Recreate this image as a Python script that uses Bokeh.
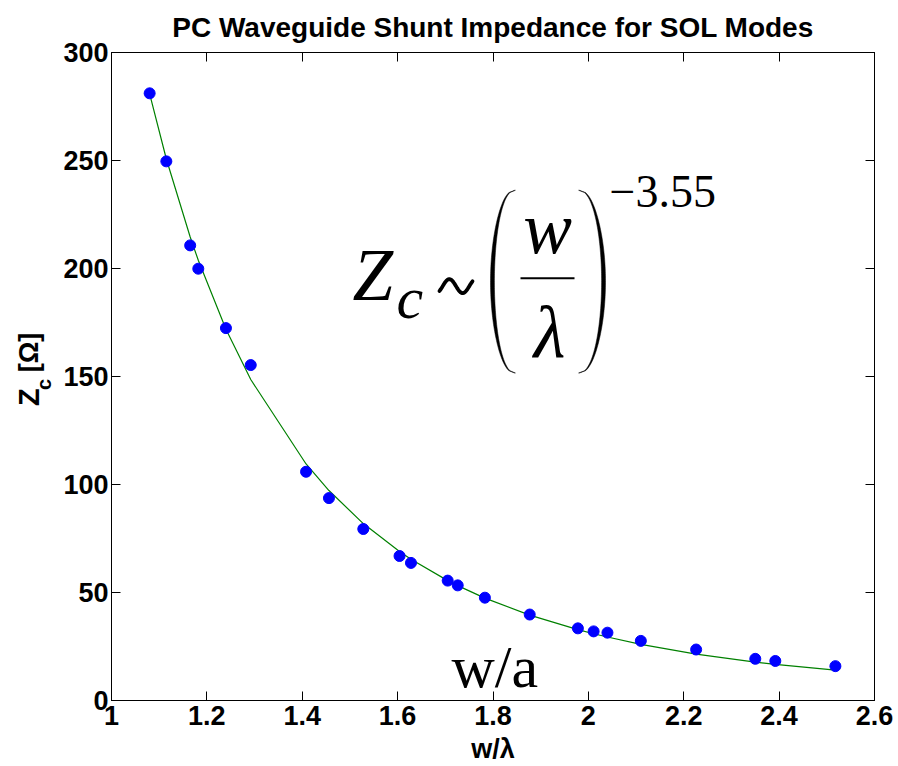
import numpy as np
from bokeh.plotting import figure
from bokeh.layouts import row
from bokeh.models import Range1d, FixedTicker, LinearAxis, Label, CustomJSTickFormatter
from bokeh.embed import file_html
from bokeh.resources import INLINE

# Simulated shunt impedance of the SOL modes versus normalized waveguide width
w_over_lambda = [1.080, 1.115, 1.165, 1.182, 1.240, 1.292, 1.408, 1.456, 1.528,
                 1.604, 1.628, 1.705, 1.726, 1.783, 1.877, 1.978, 2.011, 2.040,
                 2.110, 2.226, 2.350, 2.392, 2.518]
z_c = [281.1, 249.6, 210.7, 199.9, 172.4, 155.3, 105.9, 93.7, 79.4,
       66.9, 63.7, 55.5, 53.3, 47.6, 39.8, 33.4, 32.0, 31.4,
       27.6, 23.6, 19.3, 18.3, 15.9]
# Power-law fit Z_c ~ (w/lambda)^-3.55 at the same widths
z_fit = [280.8, 250.7, 214.6, 203.8, 171.9, 148.6, 109.5, 97.2, 81.9,
         69.0, 65.4, 55.5, 53.2, 47.4, 39.5, 32.8, 30.9, 29.4,
         26.0, 21.5, 17.8, 16.7, 14.1]

x_ticks = [1.0, 1.2, 1.4, 1.6, 1.8, 2.0, 2.2, 2.4, 2.6]
x_tick_labels = ["1", "1.2", "1.4", "1.6", "1.8", "2", "2.2", "2.4", "2.6"]
y_ticks = [0, 50, 100, 150, 200, 250, 300]
y_tick_labels = ["0", "50", "100", "150", "200", "250", "300"]

W, H = 898, 766
STRIP = 56                      # narrow strip holding the y-axis label
LEFT, RIGHT, TOP, BOTTOM = 111, 24, 52, 65
X0, X1 = 1.0, 2.6
Y0, Y1 = 0.0, 300.0
FW, FH = W - LEFT - RIGHT, H - TOP - BOTTOM

SANS = "Liberation Sans"
SERIF = "Liberation Serif"
BASE_SHIFT = 0.34               # em offset between Label anchor and glyph baseline

p = figure(width=W - STRIP, height=H, x_range=Range1d(X0, X1), y_range=Range1d(Y0, Y1),
           output_backend="svg", toolbar_location=None,
           x_axis_type=None, y_axis_type=None,
           min_border_left=LEFT - STRIP, min_border_right=RIGHT,
           min_border_top=TOP, min_border_bottom=BOTTOM)
p.background_fill_color = "white"
p.border_fill_color = "white"
p.outline_line_color = "black"
p.outline_line_width = 1
p.xgrid.visible = False
p.ygrid.visible = False

p.title.text = "PC Waveguide Shunt Impedance for SOL Modes"
p.title.align = "center"
p.title.text_font = SANS
p.title.text_font_size = "28px"
p.title.text_font_style = "bold"
p.title.text_color = "black"
p.title.standoff = 19

blank = CustomJSTickFormatter(code="return ''")


def style_axis(ax, ticks, labels=None):
    ax.ticker = FixedTicker(ticks=ticks)
    ax.major_tick_in = 9
    ax.major_tick_out = 0
    ax.minor_tick_line_color = None
    ax.axis_line_color = "black"
    ax.major_tick_line_color = "black"
    ax.major_label_text_font = SANS
    ax.major_label_text_font_size = "27px"
    ax.major_label_text_font_style = "bold"
    ax.major_label_text_color = "black"
    if labels is None:
        ax.formatter = blank
    else:
        ax.major_label_overrides = {t: s for t, s in zip(ticks, labels)}


xb = LinearAxis()
style_axis(xb, x_ticks, x_tick_labels)
xb.major_label_standoff = 5
xb.axis_label = "w/\u03bb"
xb.axis_label_text_font = SANS
xb.axis_label_text_font_size = "27px"
xb.axis_label_text_font_style = "bold"
xb.axis_label_text_color = "black"
xb.axis_label_standoff = 6
p.add_layout(xb, "below")
yl = LinearAxis()
style_axis(yl, y_ticks, y_tick_labels)
yl.major_label_standoff = 3
p.add_layout(yl, "left")
xt = LinearAxis()
style_axis(xt, x_ticks)
p.add_layout(xt, "above")
yr = LinearAxis()
style_axis(yr, y_ticks)
p.add_layout(yr, "right")

# data and fit
p.line(w_over_lambda, z_fit, line_color="#008000", line_width=1.2)
p.scatter(w_over_lambda, z_c, size=11, fill_color="#0000ff", line_color="#0000ff")


# helpers to place annotations by canvas pixel position
def dx(px):
    return X0 + (px - LEFT) / FW * (X1 - X0)


def dy(py):
    return Y1 - (py - TOP) / FH * (Y1 - Y0)


def label(text, px, py, size, font=SERIF, style="normal", align="left"):
    p.add_layout(Label(x=dx(px), y=dy(py - BASE_SHIFT * size), text=text,
                       text_font=font, text_font_size=f"{size}px",
                       text_font_style=style, text_align=align,
                       text_baseline="alphabetic", text_color="black"))


# formula Z_c ~ (w / lambda)^-3.55
label("Z", 352, 300, 73, style="italic")
label("c", 396, 318, 60, style="italic")
label("w", 547, 253, 73, style="italic", align="center")
label("\u03bb", 549, 357, 73, style="italic", align="center")
label("\u22123.55", 609, 207, 46)
label("w/a", 451, 688, 60)

# tilde
t = np.linspace(-0.12, 1.12, 60)
tx = 439 + (t + 0.12) / 1.24 * 33
ty = 286 - 7.0 * np.sin(2 * np.pi * t)
p.line([dx(v) for v in tx], [dy(v) for v in ty], line_color="black",
       line_width=3.8, line_cap="round")

# fraction bar
p.line([dx(520), dx(574)], [dy(278), dy(278)], line_color="black", line_width=2)


# stretched parentheses
def paren(x_end, x_mid, top, bottom):
    s = np.linspace(0.0, 1.0, 80)
    bulge = np.sin(np.pi * s) ** 0.45
    sign = 1 if x_mid < x_end else -1
    thick = 0.9 + 3.0 * np.sin(np.pi * s)
    outer_x = x_end + (x_mid - x_end) * bulge
    inner_x = outer_x + sign * thick
    ys = top + s * (bottom - top)
    xs = np.concatenate([outer_x, inner_x[::-1]])
    yy = np.concatenate([ys, ys[::-1]])
    p.patch([dx(v) for v in xs], [dy(v) for v in yy], fill_color="black",
            line_color="black", line_width=0.5)


paren(514, 490, 190, 373)
paren(579, 605, 190, 373)

# y-axis label strip: Z_c [Omega], read bottom to top
side = figure(width=STRIP, height=H, x_range=Range1d(0, STRIP), y_range=Range1d(0, H),
              output_backend="svg", toolbar_location=None,
              x_axis_type=None, y_axis_type=None, min_border=0)
side.outline_line_color = None
side.background_fill_color = "white"
side.border_fill_color = "white"
side.xgrid.visible = False
side.ygrid.visible = False


def side_label(text, px, py, size):
    side.add_layout(Label(x=px - BASE_SHIFT * size, y=H - py, text=text,
                          text_font=SANS, text_font_size=f"{size}px",
                          text_font_style="bold", text_align="left",
                          text_baseline="alphabetic", angle=np.pi / 2,
                          text_color="black"))


side_label("Z", 38, 418, 29)
side_label("c", 50, 399, 20)
side_label("[\u03a9]", 38, 378, 27)

layout = row(side, p, spacing=0)
open("out.html", "w").write(file_html(layout, INLINE))
